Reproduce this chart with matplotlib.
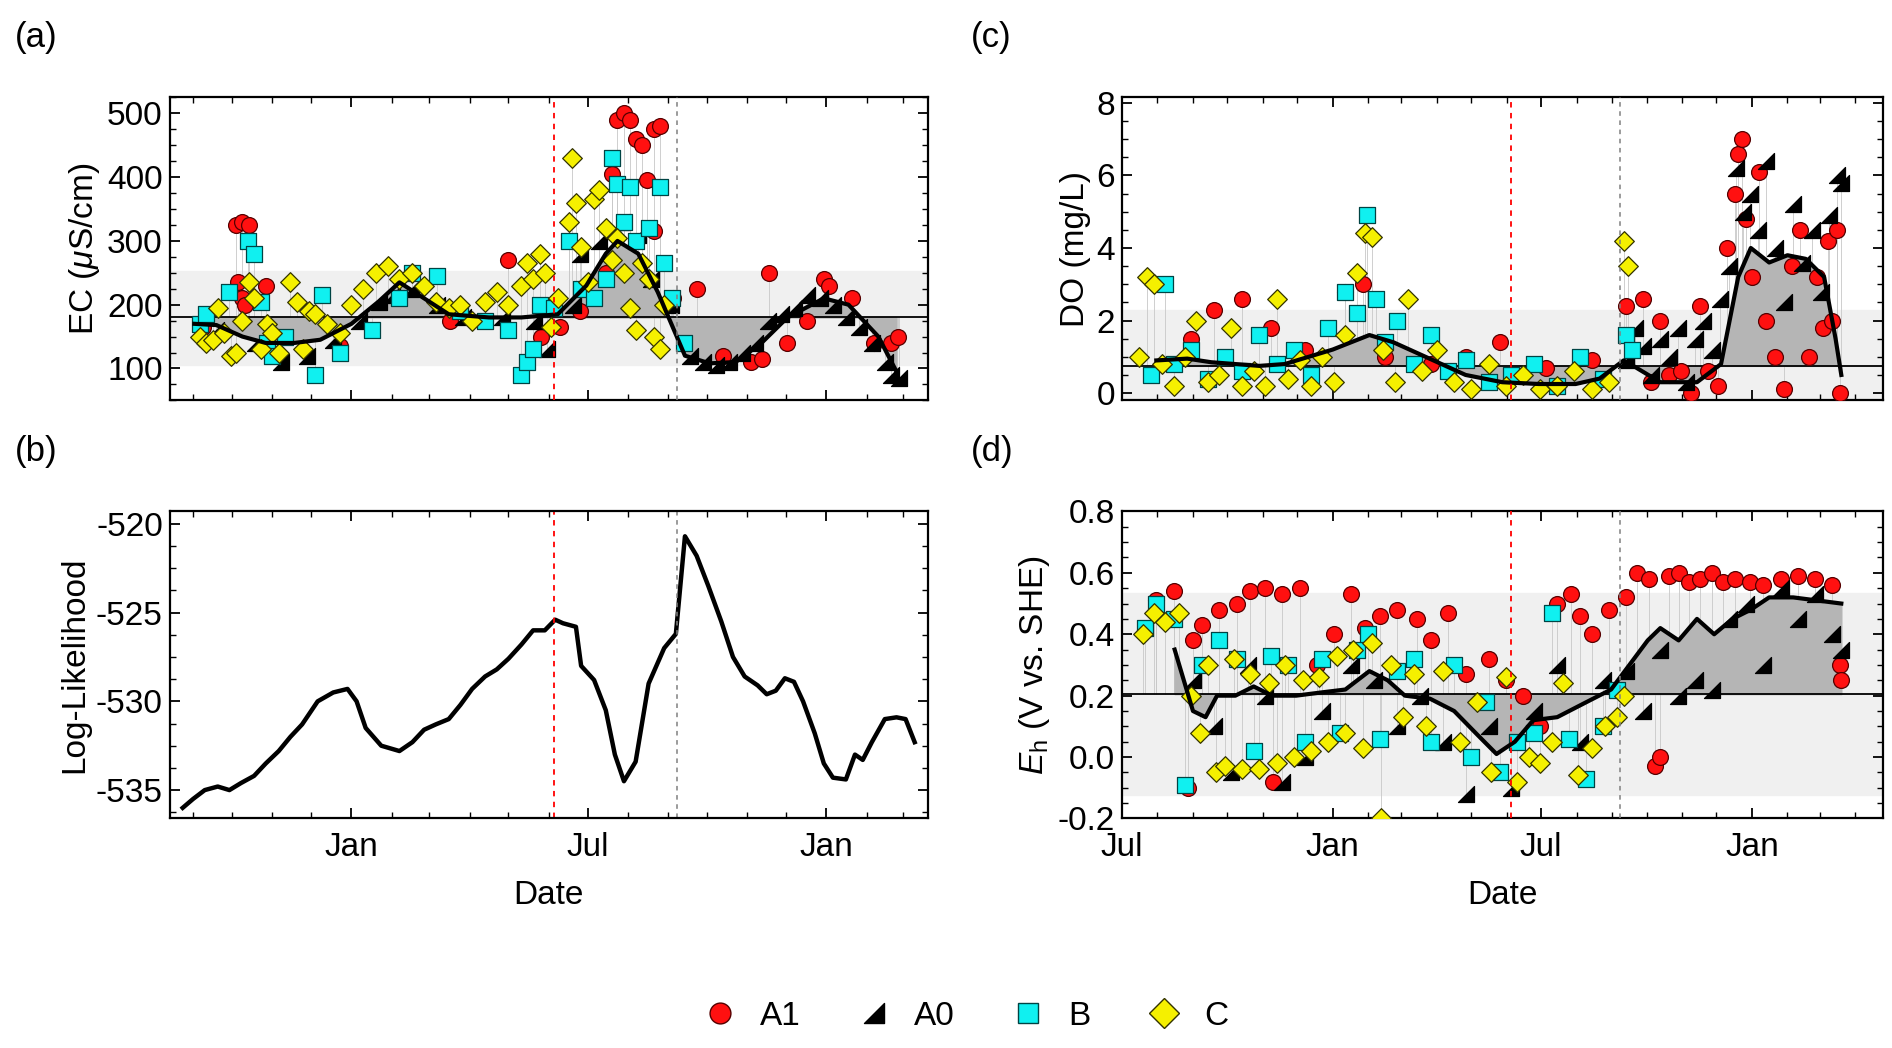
import numpy as np
import matplotlib.pyplot as plt
import matplotlib.dates as mdates
from matplotlib.path import Path
from matplotlib.lines import Line2D

plt.rcParams['font.family'] = ['Liberation Sans', 'DejaVu Sans']
plt.rcParams['mathtext.fontset'] = 'custom'
plt.rcParams['mathtext.it'] = 'Liberation Sans:italic'
plt.rcParams['mathtext.rm'] = 'Liberation Sans'
plt.rcParams['axes.unicode_minus'] = False

T0 = np.datetime64('2019-07-01')

# ---------- data: days since 2019-07-01 ----------
# (a) EC
ec_base, ec_band = 180, (105, 253)
ec_smooth_d = [63, 80, 100, 118, 140, 160, 184, 205, 221, 240, 259, 290, 315, 343, 365, 380, 389, 405, 420, 441, 460, 480, 500, 520, 548, 567, 590, 604]
ec_smooth_v = [170, 168, 150, 140, 140, 145, 170, 205, 235, 210, 185, 180, 180, 185, 230, 280, 300, 280, 220, 120, 108, 110, 140, 180, 210, 200, 150, 95]
ec_a1_d = [70, 95, 100, 105, 97, 100, 102, 118, 175, 260, 305, 330, 345, 360, 380, 385, 389, 394, 399, 403, 408, 412, 417, 422, 417, 432, 450, 470, 492, 500, 506, 520, 535, 548, 552, 570, 587, 600, 605]
ec_a1_v = [165, 325, 330, 325, 235, 210, 200, 230, 135, 175, 270, 150, 165, 190, 250, 405, 490, 500, 490, 460, 450, 395, 475, 480, 315, 210, 225, 120, 110, 115, 250, 140, 175, 240, 230, 210, 140, 140, 150]
ec_a0_d = [80, 110, 130, 150, 170, 190, 205, 215, 230, 250, 270, 300, 325, 335, 355, 360, 375, 392, 405, 415, 430, 445, 455, 465, 475, 485, 495, 505, 515, 525, 535, 545, 555, 565, 575, 585, 595, 600, 606]
ec_a0_v = [160, 140, 110, 120, 145, 175, 205, 215, 225, 200, 180, 180, 175, 130, 200, 280, 300, 330, 310, 240, 200, 120, 110, 105, 110, 125, 140, 175, 185, 195, 215, 210, 200, 180, 165, 140, 110, 90, 85]
ec_b_d = [67, 72, 90, 104, 109, 114, 119, 123, 133, 156, 161, 175, 200, 221, 231, 250, 268, 287, 305, 315, 319, 324, 329, 340, 352, 361, 371, 380, 385, 389, 394, 399, 403, 413, 422, 425, 431, 440]
ec_b_v = [170, 185, 220, 300, 280, 205, 140, 120, 150, 90, 215, 125, 160, 210, 250, 245, 190, 175, 160, 90, 110, 130, 200, 195, 300, 225, 210, 240, 430, 390, 330, 385, 300, 320, 385, 265, 210, 140]
ec_c_d = [67, 72, 77, 81, 86, 91, 95, 100, 105, 109, 114, 119, 123, 128, 137, 142, 147, 151, 156, 165, 175, 184, 193, 203, 212, 221, 231, 240, 249, 259, 268, 277, 287, 296, 305, 315, 319, 324, 329, 333, 338, 343, 352, 354, 357, 361, 366, 371, 375, 380, 385, 389, 394, 399, 403, 408, 413, 417, 422, 425]
ec_c_v = [150, 140, 145, 195, 155, 120, 125, 175, 235, 210, 130, 170, 155, 125, 235, 205, 130, 190, 185, 170, 155, 200, 225, 250, 260, 240, 250, 230, 205, 195, 200, 175, 205, 220, 200, 230, 265, 240, 280, 250, 165, 210, 330, 430, 360, 290, 235, 365, 380, 320, 270, 305, 250, 195, 160, 265, 240, 150, 130, 200]

# (b) log-likelihood
ll_d = [54, 62, 71, 81, 90, 99, 109, 118, 128, 137, 146, 158, 170, 181, 188, 195, 207, 221, 231, 240, 249, 259, 268, 277, 287, 296, 305, 315, 324, 333, 341, 347, 357, 361, 371, 380, 387, 394, 403, 413, 425, 434, 441, 450, 459, 469, 478, 487, 497, 504, 511, 518, 525, 532, 541, 548, 555, 565, 572, 578, 585, 595, 604, 611, 618]
ll_v = [-536, -535.5, -535, -534.8, -535, -534.6, -534.2, -533.5, -532.8, -532, -531.3, -530, -529.5, -529.3, -530, -531.5, -532.5, -532.8, -532.3, -531.6, -531.3, -531, -530.2, -529.3, -528.6, -528.2, -527.6, -526.8, -526, -526, -525.4, -525.6, -525.8, -528, -528.8, -530.5, -533, -534.5, -533.4, -529, -527, -526.2, -520.7, -521.8, -523.5, -525.5, -527.5, -528.6, -529.1, -529.6, -529.4, -528.7, -528.9, -530, -531.8, -533.5, -534.3, -534.4, -533, -533.3, -532.3, -531, -530.9, -531, -532.3]

# (c) DO
do_base, do_band = 0.75, (-0.2, 2.3)
do_smooth_d = [30, 57, 78, 99, 120, 142, 163, 184, 216, 237, 258, 279, 300, 332, 364, 396, 417, 438, 449, 470, 502, 523, 538, 549, 565, 581, 597, 613, 623, 628]
do_smooth_v = [0.9, 0.95, 0.85, 0.8, 0.75, 0.8, 1.0, 1.2, 1.6, 1.4, 1.1, 0.8, 0.5, 0.3, 0.25, 0.25, 0.4, 0.9, 0.7, 0.3, 0.3, 0.8, 3.2, 4.0, 3.6, 3.8, 3.7, 3.2, 1.5, 0.5]
do_a1_d = [60, 80, 105, 130, 160, 195, 210, 230, 270, 300, 330, 370, 410, 440, 455, 462, 470, 478, 488, 497, 505, 512, 520, 528, 535, 538, 541, 545, 550, 556, 562, 570, 578, 585, 592, 600, 607, 612, 616, 620, 624, 627]
do_a1_v = [1.5, 2.3, 2.6, 1.8, 1.2, 2.8, 3.0, 1.0, 0.8, 1.0, 1.4, 0.7, 0.9, 2.4, 2.6, 0.3, 2.0, 0.5, 0.6, 0.0, 2.4, 0.6, 0.2, 4.0, 5.5, 6.6, 7.0, 4.8, 3.2, 6.1, 2.0, 1.0, 0.1, 3.5, 4.5, 1.0, 3.2, 1.8, 4.2, 2.0, 4.5, 0.0]
do_a0_d = [440, 448, 455, 462, 470, 478, 485, 492, 500, 507, 515, 522, 530, 536, 542, 548, 555, 562, 570, 578, 586, 594, 602, 610, 617, 624, 628]
do_a0_v = [0.9, 1.8, 1.3, 0.5, 1.5, 1.0, 1.8, 0.3, 1.5, 2.0, 1.2, 2.6, 3.5, 6.2, 5.0, 5.5, 4.5, 6.4, 4.0, 2.5, 5.2, 3.6, 4.5, 2.8, 4.9, 6.0, 5.8]
do_b_d = [25, 38, 45, 60, 75, 90, 105, 120, 135, 150, 165, 180, 195, 205, 214, 222, 230, 240, 255, 270, 285, 300, 320, 340, 360, 380, 400, 420, 440, 445]
do_b_v = [0.5, 3.0, 0.8, 1.2, 0.4, 1.0, 0.6, 1.6, 0.8, 1.2, 0.5, 1.8, 2.8, 2.2, 4.9, 2.6, 1.4, 2.0, 0.8, 1.6, 0.6, 0.9, 0.3, 0.5, 0.8, 0.2, 1.0, 0.4, 1.6, 1.2]
do_c_d = [15, 22, 28, 35, 45, 55, 65, 75, 85, 95, 105, 115, 125, 135, 145, 155, 165, 175, 185, 195, 205, 212, 218, 228, 238, 250, 262, 275, 290, 305, 320, 335, 350, 365, 380, 395, 410, 425, 438, 442]
do_c_v = [1.0, 3.2, 3.0, 0.8, 0.2, 1.0, 2.0, 0.3, 0.5, 1.8, 0.2, 0.6, 0.2, 2.6, 0.4, 0.9, 0.2, 1.0, 0.3, 1.6, 3.3, 4.4, 4.3, 1.2, 0.3, 2.6, 0.6, 1.2, 0.3, 0.1, 0.8, 0.2, 0.5, 0.1, 0.2, 0.6, 0.1, 0.3, 4.2, 3.5]

# (d) Eh
eh_base, eh_band = 0.205, (-0.125, 0.535)
eh_smooth_d = [46, 62, 73, 83, 99, 115, 131, 152, 173, 195, 216, 232, 247, 269, 290, 311, 327, 343, 359, 380, 406, 427, 443, 459, 470, 486, 502, 517, 533, 549, 565, 586, 607, 628]
eh_smooth_v = [0.35, 0.15, 0.13, 0.2, 0.2, 0.23, 0.2, 0.2, 0.21, 0.22, 0.28, 0.25, 0.2, 0.19, 0.15, 0.07, 0.01, 0.05, 0.12, 0.13, 0.18, 0.22, 0.3, 0.38, 0.42, 0.38, 0.45, 0.4, 0.45, 0.48, 0.52, 0.52, 0.51, 0.5]
eh_a1_d = [30, 45, 58, 62, 70, 85, 100, 112, 125, 132, 140, 155, 170, 185, 200, 212, 225, 240, 258, 270, 285, 300, 320, 335, 350, 365, 380, 392, 400, 410, 425, 440, 450, 460, 465, 470, 478, 486, 495, 505, 515, 525, 535, 548, 560, 575, 590, 605, 620, 627, 628]
eh_a1_v = [0.51, 0.54, -0.1, 0.38, 0.43, 0.48, 0.5, 0.54, 0.55, -0.08, 0.53, 0.55, 0.3, 0.4, 0.53, 0.42, 0.46, 0.48, 0.45, 0.38, 0.47, 0.27, 0.32, 0.25, 0.2, 0.1, 0.5, 0.53, 0.46, 0.4, 0.48, 0.52, 0.6, 0.58, -0.03, 0.0, 0.59, 0.6, 0.57, 0.58, 0.6, 0.57, 0.58, 0.57, 0.56, 0.58, 0.59, 0.58, 0.56, 0.3, 0.25]
eh_a0_d = [62, 80, 95, 110, 125, 140, 160, 175, 200, 220, 240, 260, 280, 300, 320, 340, 360, 380, 400, 420, 440, 455, 470, 485, 500, 515, 530, 545, 560, 575, 590, 605, 620, 628]
eh_a0_v = [0.25, 0.1, -0.05, 0.3, 0.2, -0.08, 0.0, 0.15, 0.3, 0.25, 0.1, 0.2, 0.05, -0.12, 0.1, -0.1, 0.15, 0.3, 0.05, 0.25, 0.28, 0.15, 0.35, 0.2, 0.25, 0.22, 0.45, 0.5, 0.3, 0.55, 0.45, 0.53, 0.4, 0.35]
eh_b_d = [20, 30, 45, 55, 70, 85, 100, 115, 130, 145, 160, 175, 190, 205, 215, 225, 240, 255, 270, 290, 305, 318, 330, 345, 360, 375, 390, 405, 420, 432]
eh_b_v = [0.42, 0.5, 0.45, -0.09, 0.3, 0.38, 0.32, 0.02, 0.33, 0.3, 0.05, 0.32, 0.08, 0.35, 0.4, 0.06, 0.28, 0.32, 0.05, 0.3, 0.0, 0.18, -0.05, 0.05, 0.08, 0.47, 0.06, -0.07, 0.1, 0.22]
eh_c_d = [18, 28, 38, 50, 60, 68, 75, 82, 90, 98, 105, 112, 120, 128, 135, 142, 150, 158, 165, 172, 180, 188, 195, 202, 210, 218, 226, 235, 245, 255, 265, 280, 295, 310, 322, 335, 345, 355, 365, 375, 385, 398, 410, 422, 432, 438]
eh_c_v = [0.4, 0.47, 0.44, 0.47, 0.2, 0.08, 0.3, -0.05, -0.03, 0.32, -0.04, 0.27, -0.04, 0.24, -0.02, 0.3, 0.0, 0.25, 0.02, 0.26, 0.05, 0.33, 0.08, 0.35, 0.03, 0.37, -0.2, 0.3, 0.13, 0.27, 0.1, 0.28, 0.05, 0.18, -0.05, 0.26, -0.08, 0.0, -0.02, 0.05, 0.24, -0.06, 0.03, 0.1, 0.13, 0.2]

RED_LINE = 340
GRAY_LINE = 435

# ---------- styling ----------
wedge = Path([(-1, -1), (1, -1), (1, 1), (-1, -1)], closed=True)
sites = [
    ('A1', dict(marker='o', c='#ff1010', ec='#550000')),
    ('A0', dict(marker=wedge, c='black', ec='black')),
    ('B', dict(marker='s', c='#10f0f0', ec='#004444')),
    ('C', dict(marker='D', c='#f5f000', ec='#333300')),
]


def to_dates(days):
    return T0 + np.array(days).astype('timedelta64[D]')


def style_axis(ax, ylim, yticks, xlabels):
    ax.set_ylim(*ylim)
    ax.set_yticks(yticks)
    ax.xaxis.set_major_locator(mdates.MonthLocator(bymonth=[1, 7]))
    ax.xaxis.set_major_formatter(mdates.DateFormatter('%b'))
    ax.xaxis.set_minor_locator(mdates.MonthLocator())
    ax.yaxis.set_minor_locator(plt.MultipleLocator((yticks[1] - yticks[0]) / 4))
    ax.tick_params(which='both', direction='in', top=True, right=True, labelsize=24)
    ax.tick_params(which='major', length=7, width=1.3)
    ax.tick_params(which='minor', length=4, width=1)
    ax.tick_params(axis='x', pad=10)
    ax.tick_params(axis='y', pad=5)
    if not xlabels:
        ax.tick_params(labelbottom=False)
    for s in ax.spines.values():
        s.set_linewidth(1.6)


def scatter_panel(ax, base, band, sm_d, sm_v, series):
    ax.axhspan(band[0], band[1], color='#f0f0f0', zorder=0)
    sd = to_dates(sm_d)
    for (name, st), (d, v) in zip(sites, series):
        ax.vlines(to_dates(d), base, v, color='#c8c8c8', lw=0.6, zorder=1)
    ax.fill_between(sd, base, sm_v, color='#b5b5b5', zorder=1)
    ax.axhline(base, color='black', lw=1.3, zorder=2)
    for (name, st), (d, v) in zip(sites, series):
        ax.scatter(to_dates(d), v, s=130 if name != 'C' else 100, marker=st['marker'],
                   c=st['c'], edgecolors=st['ec'], linewidths=0.9, zorder=3)
    ax.plot(sd, sm_v, color='black', lw=3, zorder=4)
    ax.axvline(to_dates([RED_LINE])[0], color='red', ls=(0, (3, 3)), lw=1.3, zorder=5)
    ax.axvline(to_dates([GRAY_LINE])[0], color='gray', ls=(0, (3, 3)), lw=1.1, zorder=5)


fig = plt.figure(figsize=(18.92, 10.48), dpi=100)
ax_a = fig.add_axes([0.0897, 0.618, 0.4006, 0.289])
ax_b = fig.add_axes([0.0897, 0.219, 0.4006, 0.293])
ax_c = fig.add_axes([0.593, 0.618, 0.402, 0.289])
ax_d = fig.add_axes([0.593, 0.219, 0.402, 0.293])

xl_ab = (to_dates([44])[0], to_dates([628])[0])
xl_cd = (to_dates([0])[0], to_dates([664])[0])

scatter_panel(ax_a, ec_base, ec_band, ec_smooth_d, ec_smooth_v,
              [(ec_a1_d, ec_a1_v), (ec_a0_d, ec_a0_v), (ec_b_d, ec_b_v), (ec_c_d, ec_c_v)])
style_axis(ax_a, (50, 525), [100, 200, 300, 400, 500], False)
ax_a.set_xlim(*xl_ab)
ax_a.set_ylabel(r'EC ($\mu$S/cm)', fontsize=24)

ax_b.plot(to_dates(ll_d), ll_v, color='black', lw=3.2)
ax_b.axvline(to_dates([RED_LINE])[0], color='red', ls=(0, (3, 3)), lw=1.3)
ax_b.axvline(to_dates([GRAY_LINE])[0], color='gray', ls=(0, (3, 3)), lw=1.1)
style_axis(ax_b, (-536.6, -519.3), [-535, -530, -525, -520], True)
ax_b.set_xlim(*xl_ab)
ax_b.set_ylabel('Log-Likelihood', fontsize=24)
ax_b.set_xlabel('Date', fontsize=24, labelpad=12)

scatter_panel(ax_c, do_base, do_band, do_smooth_d, do_smooth_v,
              [(do_a1_d, do_a1_v), (do_a0_d, do_a0_v), (do_b_d, do_b_v), (do_c_d, do_c_v)])
style_axis(ax_c, (-0.2, 8.15), [0, 2, 4, 6, 8], False)
ax_c.set_xlim(*xl_cd)
ax_c.set_ylabel('DO (mg/L)', fontsize=24)

scatter_panel(ax_d, eh_base, eh_band, eh_smooth_d, eh_smooth_v,
              [(eh_a1_d, eh_a1_v), (eh_a0_d, eh_a0_v), (eh_b_d, eh_b_v), (eh_c_d, eh_c_v)])
style_axis(ax_d, (-0.2, 0.8), [-0.2, 0.0, 0.2, 0.4, 0.6, 0.8], True)
ax_d.yaxis.set_major_formatter(plt.FormatStrFormatter('%.1f'))
ax_d.set_xlim(*xl_cd)
ax_d.set_ylabel(r'$E_\mathrm{h}$ (V vs. SHE)', fontsize=24)
ax_d.set_xlabel('Date', fontsize=24, labelpad=12)

for lbl, x, y in [('(a)', 0.008, 0.955), ('(b)', 0.008, 0.56), ('(c)', 0.513, 0.955), ('(d)', 0.513, 0.56)]:
    fig.text(x, y, lbl, fontsize=25)

handles = [Line2D([], [], ls='', marker=st['marker'], markersize=15, markerfacecolor=st['c'],
                  markeredgecolor=st['ec'], label=name) for name, st in sites]
fig.legend(handles=handles, loc='center', bbox_to_anchor=(0.506, 0.03), ncol=4, frameon=False,
           fontsize=24, handletextpad=0.2, columnspacing=1.2)

fig.savefig('out.png', dpi=100)
